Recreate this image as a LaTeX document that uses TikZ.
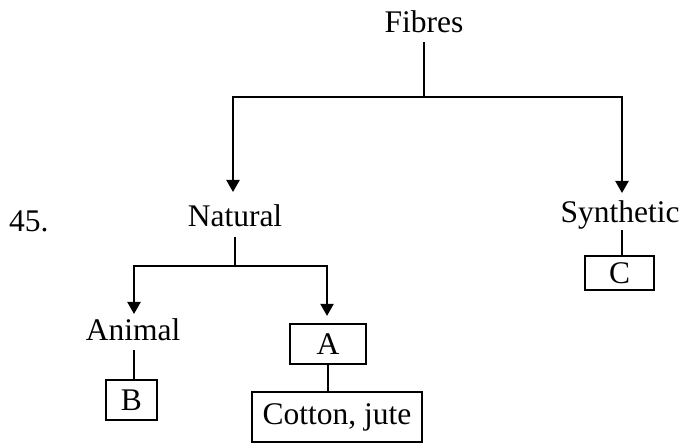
\documentclass[tikz,border=0pt]{standalone}
\usepackage{fontspec}
\setmainfont{Liberation Serif}
\usetikzlibrary{arrows.meta}
\begin{document}
\begin{tikzpicture}[x=1pt,y=-1pt, line width=2.2pt,
  lbl/.style={anchor=base, inner sep=0pt, font=\fontsize{31.5}{38}\selectfont},
  bx/.style={draw, line width=2.2pt, inner sep=0pt, font=\fontsize{31.5}{38}\selectfont},
  arr/.style={-{Triangle[width=13pt,length=12pt]}}]
\useasboundingbox (0,0) rectangle (682,443);
% labels
\node[lbl] (fibres) at (424,33) {Fibres};
\node[lbl] (natural) at (235,227) {Natural};
\node[lbl] (synthetic) at (620,223) {Synthetic};
\node[lbl] (animal) at (133,340) {Animal};
\node[lbl, anchor=base west] (num) at (8,232) {45.};
% boxes
\node[bx, minimum width=76, minimum height=40] (A) at (328,344) {A};
\node[bx, minimum width=51, minimum height=40] (B) at (131.5,400) {B};
\node[bx, minimum width=69, minimum height=34] (C) at (619.5,273) {C};
\node[bx, minimum width=170, minimum height=50] (cj) at (337,417) {Cotton, jute};
% junctions
\coordinate (fj) at (424,97);
\coordinate (fl) at (233,97);
\coordinate (fr) at (622,97);
\coordinate (nj) at (235,266);
\coordinate (nl) at (134,266);
\coordinate (nr) at (327,266);
% connectors
\draw ([yshift=-9pt]fibres.base) -- (fj);
\draw[arr] (fj) -- (fl) -- ([yshift=35pt]natural.base -| fl);
\draw[arr] (fj) -- (fr) -- ([yshift=30pt]synthetic.base -| fr);
\draw ([yshift=-10pt]natural.base) -- (nj);
\draw[arr] (nj) -- (nl) -- ([yshift=26pt]animal.base -| nl);
\draw[arr] (nj) -- (nr) -- ([yshift=7pt]A.north -| nr);
\draw ([yshift=-10pt]animal.base -| nl) -- (B.north -| nl);
\draw (A.south) -- (cj.north -| A.south);
\draw ([yshift=-7pt]synthetic.base -| fr) -- (C.north -| fr);
\end{tikzpicture}
\end{document}
